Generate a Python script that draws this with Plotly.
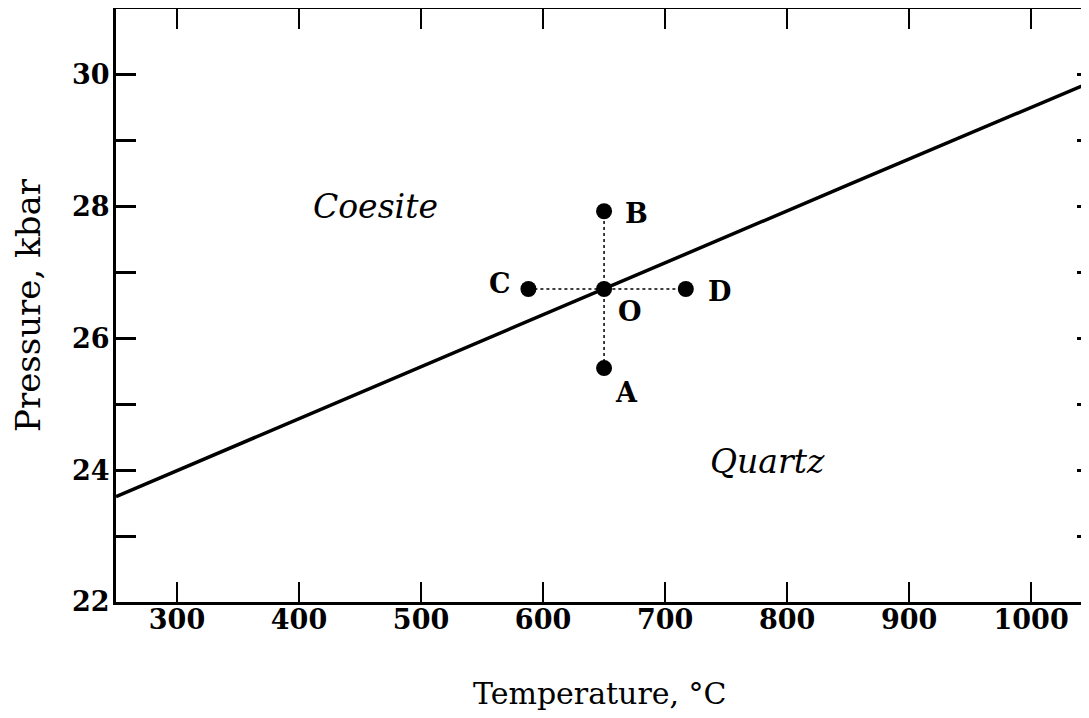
import plotly.graph_objects as go

# Phase boundary (quartz-coesite), T in °C, P in kbar
boundary_T = [250, 450, 650, 850, 1054]
boundary_P = [23.6, 25.18, 26.75, 28.33, 29.93]

# Perturbation points around O
point_names = ["O", "A", "B", "C", "D"]
point_T = [650, 650, 650, 588, 717]
point_P = [26.75, 25.55, 27.93, 26.75, 26.75]

x_ticks = [300, 400, 500, 600, 700, 800, 900, 1000]
y_ticks = [22, 23, 24, 25, 26, 27, 28, 29, 30, 31]
y_ticklabels = ["22", "", "24", "", "26", "", "28", "", "30", ""]

region_labels = ["Coesite", "Quartz"]
region_T = [463, 784]
region_P = [28.0, 24.13]

x_title = "Temperature, °C"
y_title = "Pressure, kbar"

fig = go.Figure()

# dotted cross lines
fig.add_trace(go.Scatter(x=[point_T[3], point_T[4]], y=[point_P[3], point_P[4]],
                         mode="lines", line=dict(color="black", width=1.5, dash="dot"),
                         hoverinfo="skip", showlegend=False))
fig.add_trace(go.Scatter(x=[point_T[1], point_T[2]], y=[point_P[1], point_P[2]],
                         mode="lines", line=dict(color="black", width=1.5, dash="dot"),
                         hoverinfo="skip", showlegend=False))
# boundary line
fig.add_trace(go.Scatter(x=boundary_T, y=boundary_P, mode="lines",
                         line=dict(color="black", width=3.5), showlegend=False))
# points
fig.add_trace(go.Scatter(x=point_T, y=point_P, mode="markers",
                         marker=dict(color="black", size=16), showlegend=False))

label_font = dict(family="DejaVu Serif", size=27, color="black", weight="bold")
offsets = {"O": (26, -22), "A": (22, -24), "B": (32, -2), "C": (-28, 6), "D": (34, -2)}
for n, t, p in zip(point_names, point_T, point_P):
    dx, dy = offsets[n]
    fig.add_annotation(x=t, y=p, text="<b>%s</b>" % n, showarrow=False,
                       xshift=dx, yshift=dy, font=label_font)

for lab, t, p in zip(region_labels, region_T, region_P):
    fig.add_annotation(x=t, y=p, text="<i>%s</i>" % lab, showarrow=False,
                       font=dict(family="DejaVu Serif", size=33, color="black"))

# x-axis title as annotation (centred slightly left of the plot centre, as in the original)
fig.add_annotation(xref="paper", yref="paper", x=0.4934, y=0, yanchor="top", yshift=-72,
                   text=x_title, showarrow=False,
                   font=dict(family="DejaVu Serif", size=30, color="black"))

axis_common = dict(showline=True, linecolor="black", linewidth=3, mirror="ticks",
                   ticks="inside", ticklen=20, tickcolor="black",
                   showgrid=False, zeroline=False, automargin=False,
                   tickfont=dict(family="DejaVu Serif", size=27, color="black", weight="bold"))

fig.update_xaxes(range=[250, 1054], tickvals=x_ticks, ticktext=[str(v) for v in x_ticks],
                 tickwidth=1.8, ticklabelstandoff=-8, **axis_common)
fig.update_yaxes(range=[22, 31], tickvals=y_ticks, ticktext=y_ticklabels,
                 tickwidth=3, ticklabelstandoff=-2,
                 title=dict(text=y_title, standoff=22,
                            font=dict(family="DejaVu Serif", size=34, color="black")),
                 **axis_common)

fig.update_layout(width=1089, height=718, margin=dict(l=108, r=0, t=1, b=124),
                  plot_bgcolor="white", paper_bgcolor="white")

fig.write_html("out.html")
